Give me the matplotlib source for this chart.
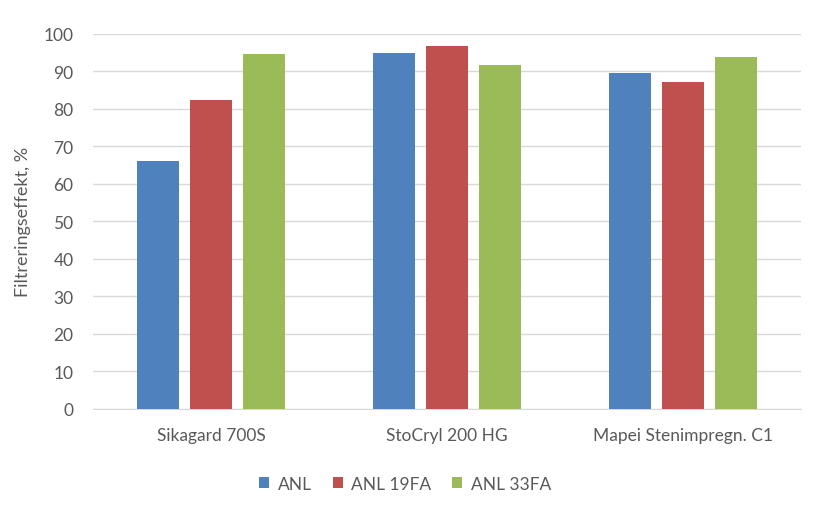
import matplotlib
matplotlib.use("Agg")
import matplotlib.pyplot as plt
import numpy as np

categories = ["Sikagard 700S", "StoCryl 200 HG", "Mapei Stenimpregn. C1"]
series_names = ["ANL", "ANL 19FA", "ANL 33FA"]
anl = [66.1, 94.8, 89.6]
anl19 = [82.3, 96.6, 87.2]
anl33 = [94.5, 91.7, 93.8]
yticks = [0, 10, 20, 30, 40, 50, 60, 70, 80, 90, 100]

colors = ["#4F81BD", "#C0504D", "#9BBB59"]
plt.rcParams['font.family'] = ['Lato', 'DejaVu Sans']
txt = "#595959"

fig = plt.figure(figsize=(8.14, 5.10), dpi=100)
ax = fig.add_axes([93/814, 1 - 409.7/510, 708/814, 375/510])

x = np.arange(len(categories))
w = 0.178
step = 0.225
for i, (vals, name) in enumerate(zip([anl, anl19, anl33], series_names)):
    ax.bar(x + (i - 1) * step, vals, width=w, color=colors[i], label=name, zorder=3)

ax.set_xlim(-0.5, 2.5)
ax.set_ylim(0, 100)
ax.set_yticks(yticks)
ax.set_xticks(x)
ax.set_xticklabels(categories)
ax.grid(axis='y', color='#D9D9D9', linewidth=1, zorder=0)
for s in ['top', 'right', 'left']:
    ax.spines[s].set_visible(False)
ax.spines['bottom'].set_color('#D9D9D9')
ax.tick_params(axis='both', length=0, colors=txt, labelsize=12.5)
ax.tick_params(axis='y', pad=14)
ax.tick_params(axis='x', pad=13)
ax.set_ylabel("Filtreringseffekt, %", color=txt, fontsize=13, labelpad=9)

leg = ax.legend(loc='center', bbox_to_anchor=(0.441, -0.2), ncol=3, frameon=False,
                fontsize=12.5, handlelength=0.57, handleheight=0.57, handletextpad=0.5,
                columnspacing=1.2)
for t in leg.get_texts():
    t.set_color(txt)

fig.savefig("out.png", dpi=100)
